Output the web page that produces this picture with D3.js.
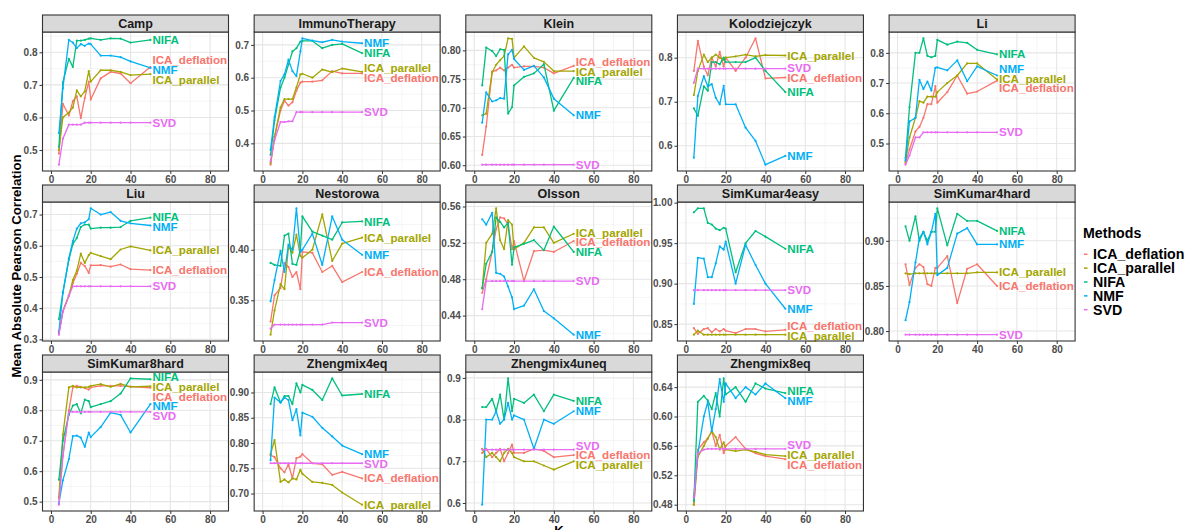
<!DOCTYPE html>
<html>
<head>
<meta charset="utf-8">
<script src="https://cdn.jsdelivr.net/npm/d3@7"></script>
<style>
  body { margin: 0; background: #ffffff; }
  svg text { font-family: "Liberation Sans", Arial, Helvetica, sans-serif; font-weight: bold; }
</style>
</head>
<body>
<svg id="chart" width="1186" height="530"></svg>
<script>
// Number of components evaluated for every dataset
const K = [4, 6, 9, 11, 13, 15, 17, 19, 20, 25, 30, 35, 40, 50];

const methods = ["ICA_deflation", "ICA_parallel", "NIFA", "NMF", "SVD"];
const methodColors = ["#F8766D", "#A3A500", "#00BF7D", "#00B0F6", "#E76BF3"];

const datasets = ["Camp", "ImmunoTherapy", "Klein", "Kolodziejczyk", "Li",
  "Liu", "Nestorowa", "Olsson", "SimKumar4easy", "SimKumar4hard",
  "SimKumar8hard", "Zhengmix4eq", "Zhengmix4uneq", "Zhengmix8eq"];

const xTicks = ["0", "20", "40", "60", "80"];

// Mean absolute Pearson correlation; rows follow the order of `methods`
const camp = [
  [0.489, 0.642, 0.606, 0.650, 0.665, 0.598, 0.660, 0.710, 0.655, 0.720, 0.740, 0.735, 0.705, 0.755],
  [0.500, 0.600, 0.615, 0.630, 0.683, 0.665, 0.680, 0.742, 0.710, 0.745, 0.745, 0.740, 0.730, 0.733],
  [0.510, 0.708, 0.780, 0.755, 0.836, 0.836, 0.838, 0.842, 0.843, 0.838, 0.843, 0.842, 0.830, 0.838],
  [0.552, 0.690, 0.838, 0.830, 0.813, 0.825, 0.820, 0.827, 0.825, 0.790, 0.790, 0.785, 0.772, 0.752],
  [0.455, 0.535, 0.578, 0.578, 0.578, 0.578, 0.584, 0.584, 0.584, 0.584, 0.584, 0.584, 0.584, 0.584]
];
const immunoTherapy = [
  [0.335, 0.420, 0.500, 0.530, 0.515, 0.525, 0.560, 0.585, 0.588, 0.588, 0.592, 0.620, 0.613, 0.613],
  [0.340, 0.420, 0.510, 0.535, 0.535, 0.535, 0.570, 0.610, 0.612, 0.600, 0.625, 0.617, 0.628, 0.618],
  [0.365, 0.470, 0.570, 0.600, 0.640, 0.680, 0.690, 0.710, 0.712, 0.712, 0.690, 0.700, 0.703, 0.675],
  [0.380, 0.480, 0.590, 0.610, 0.655, 0.620, 0.605, 0.680, 0.720, 0.713, 0.708, 0.715, 0.710, 0.705],
  [0.345, 0.410, 0.465, 0.465, 0.467, 0.467, 0.495, 0.495, 0.495, 0.495, 0.495, 0.495, 0.495, 0.495]
];
const klein = [
  [0.618, 0.667, 0.763, 0.765, 0.770, 0.765, 0.770, 0.775, 0.770, 0.772, 0.772, 0.770, 0.760, 0.773],
  [0.687, 0.690, 0.762, 0.775, 0.783, 0.790, 0.821, 0.820, 0.787, 0.807, 0.787, 0.780, 0.764, 0.764],
  [0.739, 0.805, 0.799, 0.790, 0.802, 0.801, 0.690, 0.701, 0.739, 0.754, 0.760, 0.776, 0.695, 0.752],
  [0.674, 0.727, 0.711, 0.713, 0.717, 0.716, 0.793, 0.801, 0.785, 0.766, 0.773, 0.753, 0.716, 0.687],
  [0.601, 0.601, 0.601, 0.601, 0.601, 0.601, 0.601, 0.601, 0.601, 0.601, 0.601, 0.601, 0.601, 0.601]
];
const kolodziejczyk = [
  [0.770, 0.838, 0.780, 0.760, 0.800, 0.780, 0.813, 0.780, 0.800, 0.770, 0.800, 0.844, 0.753, 0.755],
  [0.715, 0.770, 0.807, 0.790, 0.800, 0.807, 0.800, 0.795, 0.800, 0.803, 0.807, 0.803, 0.806, 0.805],
  [0.685, 0.668, 0.735, 0.725, 0.790, 0.790, 0.785, 0.800, 0.790, 0.790, 0.790, 0.800, 0.770, 0.722],
  [0.573, 0.713, 0.758, 0.735, 0.740, 0.709, 0.694, 0.736, 0.694, 0.694, 0.641, 0.611, 0.557, 0.577],
  [0.743, 0.775, 0.775, 0.775, 0.775, 0.775, 0.775, 0.775, 0.775, 0.775, 0.775, 0.775, 0.775, 0.775]
];
const li = [
  [0.435, 0.480, 0.540, 0.555, 0.585, 0.630, 0.630, 0.690, 0.635, 0.670, 0.725, 0.665, 0.672, 0.708],
  [0.440, 0.520, 0.585, 0.640, 0.635, 0.655, 0.655, 0.655, 0.670, 0.700, 0.725, 0.765, 0.765, 0.712],
  [0.453, 0.620, 0.800, 0.800, 0.848, 0.790, 0.785, 0.790, 0.843, 0.827, 0.837, 0.833, 0.810, 0.795],
  [0.445, 0.573, 0.585, 0.711, 0.680, 0.705, 0.675, 0.750, 0.752, 0.742, 0.775, 0.706, 0.755, 0.725],
  [0.430, 0.460, 0.520, 0.520, 0.537, 0.537, 0.537, 0.537, 0.537, 0.537, 0.537, 0.537, 0.537, 0.537]
];
const liu = [
  [0.320, 0.390, 0.440, 0.480, 0.510, 0.545, 0.535, 0.513, 0.537, 0.538, 0.533, 0.540, 0.525, 0.522],
  [0.320, 0.390, 0.440, 0.490, 0.520, 0.575, 0.545, 0.570, 0.577, 0.567, 0.557, 0.588, 0.598, 0.585],
  [0.365, 0.450, 0.555, 0.605, 0.625, 0.660, 0.668, 0.668, 0.655, 0.658, 0.658, 0.660, 0.680, 0.690],
  [0.325, 0.450, 0.560, 0.615, 0.655, 0.672, 0.675, 0.685, 0.720, 0.700, 0.708, 0.680, 0.672, 0.665],
  [0.315, 0.390, 0.440, 0.470, 0.470, 0.470, 0.470, 0.470, 0.470, 0.470, 0.470, 0.470, 0.470, 0.470]
];
const nestorowa = [
  [0.329, 0.355, 0.362, 0.387, 0.383, 0.373, 0.378, 0.361, 0.398, 0.397, 0.378, 0.384, 0.368, 0.378],
  [0.316, 0.340, 0.366, 0.361, 0.403, 0.397, 0.415, 0.394, 0.392, 0.400, 0.435, 0.389, 0.406, 0.412],
  [0.387, 0.385, 0.384, 0.414, 0.416, 0.386, 0.385, 0.400, 0.433, 0.418, 0.414, 0.410, 0.427, 0.428],
  [0.349, 0.370, 0.399, 0.378, 0.405, 0.400, 0.441, 0.398, 0.400, 0.416, 0.385, 0.433, 0.410, 0.395],
  [0.322, 0.326, 0.326, 0.326, 0.326, 0.326, 0.326, 0.326, 0.326, 0.326, 0.326, 0.328, 0.328, 0.328]
];
const olsson = [
  [0.465, 0.480, 0.510, 0.535, 0.548, 0.547, 0.540, 0.513, 0.522, 0.478, 0.511, 0.512, 0.510, 0.522],
  [0.470, 0.520, 0.530, 0.558, 0.523, 0.513, 0.545, 0.540, 0.513, 0.520, 0.537, 0.537, 0.520, 0.530],
  [0.470, 0.497, 0.510, 0.548, 0.543, 0.537, 0.542, 0.496, 0.515, 0.519, 0.523, 0.512, 0.538, 0.510],
  [0.546, 0.540, 0.553, 0.487, 0.486, 0.483, 0.472, 0.460, 0.447, 0.451, 0.469, 0.445, 0.437, 0.419],
  [0.447, 0.478, 0.478, 0.478, 0.478, 0.478, 0.478, 0.478, 0.478, 0.478, 0.478, 0.478, 0.478, 0.478]
];
const simKumar4easy = [
  [0.845, 0.838, 0.844, 0.845, 0.840, 0.844, 0.841, 0.844, 0.842, 0.839, 0.844, 0.844, 0.841, 0.843],
  [0.837, 0.842, 0.837, 0.837, 0.837, 0.837, 0.837, 0.837, 0.837, 0.837, 0.837, 0.837, 0.837, 0.837],
  [0.988, 0.993, 0.993, 0.975, 0.973, 0.968, 0.966, 0.969, 0.968, 0.914, 0.950, 0.965, 0.958, 0.943],
  [0.875, 0.932, 0.931, 0.908, 0.908, 0.925, 0.946, 0.942, 0.952, 0.900, 0.948, 0.923, 0.900, 0.869],
  [0.892, 0.892, 0.892, 0.892, 0.892, 0.892, 0.892, 0.892, 0.892, 0.892, 0.892, 0.892, 0.892, 0.892]
];
const simKumar4hard = [
  [0.874, 0.851, 0.870, 0.874, 0.871, 0.852, 0.850, 0.870, 0.870, 0.883, 0.831, 0.869, 0.874, 0.850],
  [0.864, 0.863, 0.864, 0.864, 0.864, 0.864, 0.864, 0.864, 0.864, 0.864, 0.864, 0.864, 0.865, 0.865],
  [0.916, 0.900, 0.927, 0.900, 0.910, 0.900, 0.910, 0.910, 0.936, 0.895, 0.930, 0.922, 0.922, 0.911],
  [0.812, 0.832, 0.876, 0.903, 0.910, 0.896, 0.910, 0.930, 0.862, 0.870, 0.908, 0.914, 0.896, 0.896],
  [0.796, 0.796, 0.796, 0.796, 0.796, 0.796, 0.796, 0.796, 0.796, 0.796, 0.796, 0.796, 0.796, 0.796]
];
const simKumar8hard = [
  [0.510, 0.650, 0.800, 0.875, 0.880, 0.877, 0.873, 0.868, 0.875, 0.880, 0.880, 0.880, 0.878, 0.874],
  [0.515, 0.720, 0.875, 0.880, 0.875, 0.875, 0.875, 0.877, 0.880, 0.886, 0.877, 0.887, 0.877, 0.879],
  [0.572, 0.700, 0.785, 0.815, 0.820, 0.790, 0.835, 0.830, 0.810, 0.820, 0.830, 0.855, 0.905, 0.902],
  [0.495, 0.570, 0.640, 0.715, 0.717, 0.710, 0.680, 0.727, 0.712, 0.745, 0.792, 0.785, 0.727, 0.820],
  [0.490, 0.650, 0.795, 0.795, 0.795, 0.795, 0.795, 0.795, 0.795, 0.795, 0.795, 0.795, 0.795, 0.795]
];
const zhengmix4eq = [
  [0.776, 0.772, 0.750, 0.742, 0.758, 0.730, 0.770, 0.773, 0.778, 0.760, 0.758, 0.737, 0.743, 0.730],
  [0.778, 0.806, 0.723, 0.728, 0.722, 0.730, 0.728, 0.747, 0.739, 0.723, 0.721, 0.717, 0.702, 0.678],
  [0.877, 0.910, 0.880, 0.893, 0.893, 0.877, 0.918, 0.900, 0.915, 0.905, 0.885, 0.928, 0.894, 0.897],
  [0.766, 0.890, 0.880, 0.890, 0.885, 0.845, 0.867, 0.815, 0.860, 0.852, 0.830, 0.813, 0.795, 0.778],
  [0.760, 0.760, 0.760, 0.760, 0.760, 0.760, 0.760, 0.760, 0.760, 0.760, 0.760, 0.760, 0.760, 0.760]
];
const zhengmix4uneq = [
  [0.720, 0.730, 0.710, 0.720, 0.730, 0.700, 0.720, 0.740, 0.720, 0.720, 0.730, 0.725, 0.710, 0.715],
  [0.730, 0.710, 0.720, 0.710, 0.700, 0.720, 0.730, 0.720, 0.710, 0.700, 0.700, 0.690, 0.680, 0.700],
  [0.830, 0.830, 0.850, 0.820, 0.860, 0.800, 0.899, 0.820, 0.850, 0.840, 0.860, 0.820, 0.860, 0.845],
  [0.596, 0.800, 0.800, 0.820, 0.790, 0.800, 0.840, 0.800, 0.810, 0.800, 0.730, 0.800, 0.790, 0.820],
  [0.728, 0.728, 0.728, 0.728, 0.728, 0.728, 0.728, 0.728, 0.728, 0.728, 0.728, 0.728, 0.728, 0.728]
];
const zhengmix8eq = [
  [0.480, 0.555, 0.565, 0.570, 0.580, 0.560, 0.575, 0.550, 0.560, 0.572, 0.556, 0.550, 0.546, 0.542],
  [0.480, 0.545, 0.560, 0.570, 0.580, 0.572, 0.555, 0.565, 0.555, 0.553, 0.555, 0.552, 0.548, 0.546],
  [0.485, 0.620, 0.628, 0.622, 0.610, 0.632, 0.600, 0.652, 0.630, 0.640, 0.620, 0.645, 0.638, 0.632],
  [0.490, 0.550, 0.600, 0.620, 0.580, 0.610, 0.651, 0.620, 0.645, 0.625, 0.640, 0.630, 0.645, 0.625],
  [0.490, 0.550, 0.555, 0.556, 0.556, 0.556, 0.556, 0.556, 0.556, 0.556, 0.556, 0.556, 0.556, 0.556]
];

// y tick labels of every facet (free scales)
const campTicks = ["0.5", "0.6", "0.7", "0.8"];
const immunoTherapyTicks = ["0.4", "0.5", "0.6", "0.7"];
const kleinTicks = ["0.60", "0.65", "0.70", "0.75", "0.80"];
const kolodziejczykTicks = ["0.6", "0.7", "0.8"];
const liTicks = ["0.5", "0.6", "0.7", "0.8"];
const liuTicks = ["0.3", "0.4", "0.5", "0.6", "0.7"];
const nestorowaTicks = ["0.35", "0.40"];
const olssonTicks = ["0.44", "0.48", "0.52", "0.56"];
const simKumar4easyTicks = ["0.85", "0.90", "0.95", "1.00"];
const simKumar4hardTicks = ["0.80", "0.85", "0.90"];
const simKumar8hardTicks = ["0.5", "0.6", "0.7", "0.8", "0.9"];
const zhengmix4eqTicks = ["0.70", "0.75", "0.80", "0.85", "0.90"];
const zhengmix4uneqTicks = ["0.6", "0.7", "0.8", "0.9"];
const zhengmix8eqTicks = ["0.48", "0.52", "0.56", "0.60", "0.64"];

const panelValues = [camp, immunoTherapy, klein, kolodziejczyk, li, liu, nestorowa,
  olsson, simKumar4easy, simKumar4hard, simKumar8hard, zhengmix4eq, zhengmix4uneq, zhengmix8eq];
const panelTicks = [campTicks, immunoTherapyTicks, kleinTicks, kolodziejczykTicks, liTicks,
  liuTicks, nestorowaTicks, olssonTicks, simKumar4easyTicks, simKumar4hardTicks,
  simKumar8hardTicks, zhengmix4eqTicks, zhengmix4uneqTicks, zhengmix8eqTicks];

// ---- layout ----
const NCOL = 5;
const panelLeft0 = 42.5, colStep = 211.65, panelW = 186;
const rowTop0 = 15, rowStep = 170, stripH = 17, plotH = 139;
const labelGap = 9.8;

const svg = d3.select("#chart");
svg.append("rect").attr("width", 1186).attr("height", 530).attr("fill", "#ffffff");

const x = d3.scaleLinear().domain([-4.25, 89.25]).range([0, panelW]);
const xMinor = [10, 30, 50, 70];

// Spread end-of-line labels vertically so they do not overlap
function spreadLabels(targets, gap, lo, hi) {
  const items = targets.map((t, i) => ({ i, t })).sort((a, b) => a.t - b.t);
  let groups = items.map(it => ({ members: [it] }));
  const place = g => {
    const n = g.members.length;
    g.top = d3.mean(g.members, m => m.t) - (n - 1) * gap / 2;
    g.top = Math.max(lo, Math.min(g.top, hi - (n - 1) * gap));
  };
  groups.forEach(place);
  let merged = true;
  while (merged) {
    merged = false;
    for (let j = 0; j < groups.length - 1; j++) {
      const a = groups[j], b = groups[j + 1];
      const aEnd = a.top + (a.members.length - 1) * gap;
      if (b.top - aEnd < gap - 1e-6) {
        a.members = a.members.concat(b.members);
        place(a);
        groups.splice(j + 1, 1);
        merged = true;
        break;
      }
    }
  }
  const out = new Array(targets.length);
  groups.forEach(g => g.members.forEach((m, k) => { out[m.i] = g.top + k * gap; }));
  return out;
}

datasets.forEach((name, idx) => {
  const col = idx % NCOL, row = Math.floor(idx / NCOL);
  const left = panelLeft0 + col * colStep;
  const top = rowTop0 + row * rowStep;
  const vals = panelValues[idx];
  const ticks = panelTicks[idx];

  const [lo, hi] = d3.extent(vals.flat());
  const pad = (hi - lo) * 0.05;
  const y = d3.scaleLinear().domain([lo - pad, hi + pad]).range([plotH, 0]);

  const g = svg.append("g").attr("transform", `translate(${left},${top + stripH})`);

  // grid
  const tickNums = ticks.map(Number);
  const step = tickNums.length > 1 ? tickNums[1] - tickNums[0] : 0.05;
  const yMinor = [];
  for (let v = tickNums[0] - step / 2; v <= tickNums[tickNums.length - 1] + step / 2 + 1e-9; v += step) {
    if (v >= y.domain()[0] && v <= y.domain()[1]) yMinor.push(v);
  }
  g.selectAll(".ymin").data(yMinor).join("line")
    .attr("x1", 0).attr("x2", panelW).attr("y1", d => y(d)).attr("y2", d => y(d))
    .attr("stroke", "#EEEEEE").attr("stroke-width", 0.6);
  g.selectAll(".xmin").data(xMinor).join("line")
    .attr("x1", d => x(d)).attr("x2", d => x(d)).attr("y1", 0).attr("y2", plotH)
    .attr("stroke", "#EEEEEE").attr("stroke-width", 0.6);
  g.selectAll(".ymaj").data(tickNums).join("line")
    .attr("x1", 0).attr("x2", panelW).attr("y1", d => y(d)).attr("y2", d => y(d))
    .attr("stroke", "#E5E5E5").attr("stroke-width", 1.1);
  g.selectAll(".xmaj").data(xTicks.map(Number)).join("line")
    .attr("x1", d => x(d)).attr("x2", d => x(d)).attr("y1", 0).attr("y2", plotH)
    .attr("stroke", "#E5E5E5").attr("stroke-width", 1.1);

  // series
  const line = d3.line().x((d, i) => x(K[i])).y(d => y(d));
  methods.forEach((m, mi) => {
    g.append("path").datum(vals[mi]).attr("d", line)
      .attr("fill", "none").attr("stroke", methodColors[mi])
      .attr("stroke-width", 1.3).attr("stroke-linejoin", "round");
    g.selectAll(null).data(vals[mi]).join("circle")
      .attr("cx", (d, i) => x(K[i])).attr("cy", d => y(d)).attr("r", 1.1)
      .attr("fill", methodColors[mi]);
  });

  // end-of-line labels
  const ends = vals.map(v => y(v[v.length - 1]));
  const labelY = spreadLabels(ends, labelGap, labelGap / 2, plotH - labelGap / 2);
  methods.forEach((m, mi) => {
    g.append("text").attr("x", x(K[K.length - 1]) + 2).attr("y", labelY[mi])
      .attr("dy", "0.35em").attr("font-size", 11.6)
      .attr("fill", methodColors[mi]).text(m);
  });

  // border
  g.append("rect").attr("width", panelW).attr("height", plotH)
    .attr("fill", "none").attr("stroke", "#333333").attr("stroke-width", 1.1);

  // axes
  const yAxis = d3.axisLeft(y).tickValues(tickNums).tickSize(3).tickPadding(2)
    .tickFormat((d, i) => ticks[i]);
  const ya = g.append("g").call(yAxis);
  const xAxis = d3.axisBottom(x).tickValues(xTicks.map(Number)).tickSize(3).tickPadding(2)
    .tickFormat((d, i) => xTicks[i]);
  const xa = g.append("g").attr("transform", `translate(0,${plotH})`).call(xAxis);
  [ya, xa].forEach(a => {
    a.select(".domain").remove();
    a.selectAll("line").attr("stroke", "#333333").attr("stroke-width", 1);
    a.selectAll("text").attr("fill", "#4D4D4D").attr("font-size", 10)
      .attr("font-family", "'Liberation Sans', Arial, sans-serif").attr("font-weight", "bold");
  });

  // strip
  svg.append("rect").attr("x", left).attr("y", top).attr("width", panelW).attr("height", stripH)
    .attr("fill", "#D9D9D9").attr("stroke", "#333333").attr("stroke-width", 1.1);
  svg.append("text").attr("x", left + panelW / 2).attr("y", top + stripH / 2)
    .attr("dy", "0.36em").attr("text-anchor", "middle").attr("font-size", 12.5)
    .attr("fill", "#1A1A1A").text(name);
});

// axis titles
svg.append("text").attr("transform", "translate(21,266) rotate(-90)")
  .attr("text-anchor", "middle").attr("font-size", 13.2).attr("fill", "#000")
  .text("Mean Absolute Pearson Correlation");
svg.append("text").attr("x", 559).attr("y", 535).attr("text-anchor", "middle")
  .attr("font-size", 13.2).attr("fill", "#000").text("K");

// legend
const legend = svg.append("g").attr("transform", "translate(1083,0)");
legend.append("text").attr("x", 0).attr("y", 233).attr("dy", "0.35em")
  .attr("font-size", 14.2).attr("fill", "#000").text("Methods");
methods.forEach((m, mi) => {
  const cy = 254.3 + mi * 13.85;
  legend.append("line").attr("x1", 1).attr("x2", 4.5).attr("y1", cy).attr("y2", cy)
    .attr("stroke", methodColors[mi]).attr("stroke-width", 1.5);
  legend.append("text").attr("x", 10).attr("y", cy).attr("dy", "0.35em")
    .attr("font-size", 14.2).attr("fill", "#000").text(m);
});
</script>
</body>
</html>
